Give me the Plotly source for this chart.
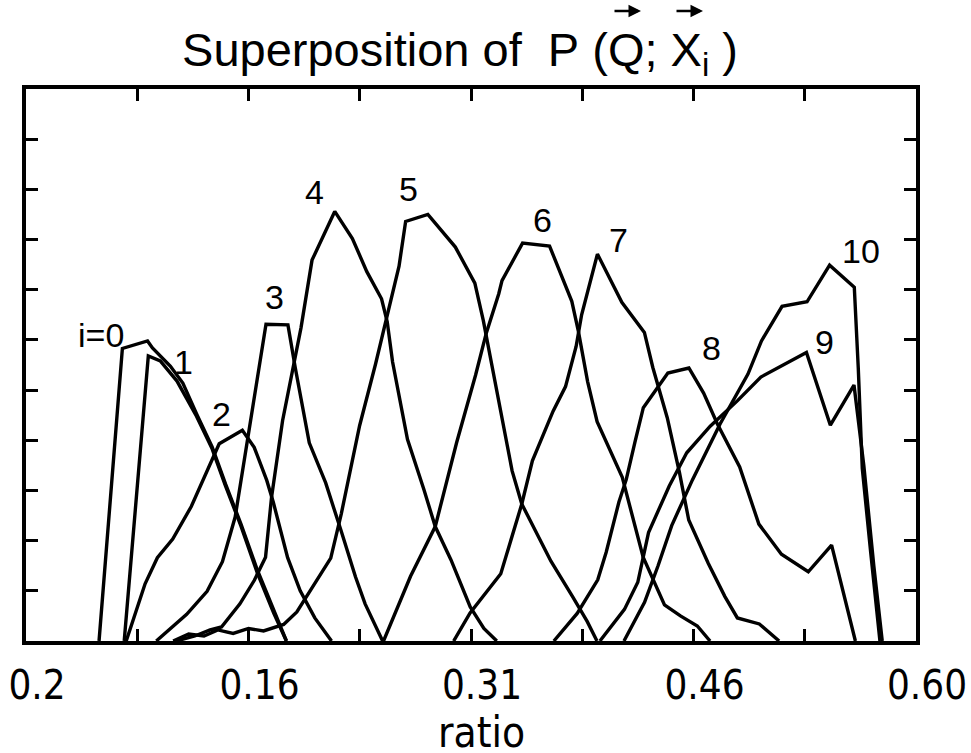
import plotly.graph_objects as go

# ---- data (ratio on x, P on y in tick units) ----
X0 = [0.0676, 0.0828, 0.0992, 0.1024, 0.1140, 0.1222, 0.1311, 0.1413, 0.1500, 0.1601, 0.1708, 0.1815, 0.1897]
Y0 = [0, 5.83, 5.98, 5.84, 5.48, 5.14, 4.53, 3.87, 3.13, 2.33, 1.41, 0.61, 0]

X1 = [0.0840, 0.0997, 0.1075, 0.1184, 0.1311, 0.1413, 0.1500, 0.1601, 0.1708, 0.1815, 0.1897]
Y1 = [0, 5.68, 5.58, 5.18, 4.48, 3.83, 3.09, 2.29, 1.35, 0.55, 0]

X2 = [0.0853, 0.0976, 0.1056, 0.1156, 0.1277, 0.1391, 0.1459, 0.1610, 0.1687, 0.1769, 0.1812, 0.1905, 0.1987, 0.2082, 0.2191]
Y2 = [0, 1.14, 1.66, 2.03, 2.68, 3.48, 3.93, 4.20, 3.86, 3.20, 2.76, 1.66, 1.00, 0.46, 0]

X3 = [0.1049, 0.1247, 0.1380, 0.1480, 0.1563, 0.1635, 0.1699, 0.1764, 0.1907, 0.1955, 0.2046, 0.2153, 0.2253, 0.2347, 0.2410, 0.2524]
Y3 = [0, 0.53, 0.99, 1.58, 2.47, 3.86, 5.16, 6.31, 6.30, 5.44, 3.95, 3.15, 2.20, 1.28, 0.74, 0]

X4 = [0.1179, 0.1300, 0.1400, 0.1474, 0.1594, 0.1688, 0.1761, 0.1800, 0.1872, 0.1942, 0.1992, 0.2064, 0.2212,
      0.2327, 0.2421, 0.2517, 0.2554, 0.2589, 0.2686, 0.2793, 0.2867, 0.2969, 0.3095, 0.3184, 0.3268]
Y4 = [0, 0.10, 0.22, 0.28, 0.74, 1.21, 1.67, 2.86, 4.39, 5.45, 6.24, 7.59, 8.56,
      8.02, 7.36, 6.82, 6.36, 5.56, 4.02, 3.02, 2.28, 1.62, 0.68, 0.25, 0]

X5 = [0.1159, 0.1260, 0.1360, 0.1450, 0.1550, 0.1650, 0.1748, 0.1879, 0.1965, 0.2032, 0.2186, 0.2255, 0.2374,
      0.2478, 0.2548, 0.2631, 0.2674, 0.2819, 0.2998, 0.3125, 0.3180, 0.3229, 0.3289, 0.3368, 0.3431, 0.3621,
      0.3761, 0.3857, 0.3921]
Y5 = [0, 0.14, 0.10, 0.22, 0.15, 0.25, 0.20, 0.33, 0.58, 0.90, 1.65, 2.54, 4.29,
      5.52, 6.42, 7.47, 8.36, 8.50, 7.85, 7.13, 6.39, 5.59, 4.59, 3.39, 2.73, 1.59,
      0.89, 0.39, 0]

X6 = [0.2530, 0.2618, 0.2706, 0.2867, 0.3006, 0.3130, 0.3199, 0.3281, 0.3302, 0.3436, 0.3612, 0.3757, 0.3800,
      0.3860, 0.3922, 0.4086, 0.4222, 0.4361, 0.4465, 0.4575, 0.4658]
Y6 = [0, 0.64, 1.29, 2.28, 3.95, 5.30, 6.13, 6.92, 7.18, 7.93, 7.87, 6.77, 6.17,
      5.17, 4.37, 3.26, 1.67, 0.72, 0.50, 0.30, 0]

X7 = [0.2987, 0.3094, 0.3294, 0.3431, 0.3500, 0.3635, 0.3716, 0.3785, 0.3821, 0.3924, 0.4083, 0.4230, 0.4285,
      0.4379, 0.4459, 0.4519, 0.4646, 0.4754, 0.4836, 0.4979, 0.5108]
Y7 = [0, 0.56, 1.34, 2.73, 3.59, 4.58, 5.07, 5.87, 6.50, 7.71, 6.75, 6.15, 5.45,
      4.45, 3.35, 2.41, 1.55, 0.89, 0.46, 0.34, 0]

X8 = [0.3640, 0.3792, 0.3926, 0.3981, 0.4064, 0.4112, 0.4168, 0.4223, 0.4383, 0.4520, 0.4616, 0.4705, 0.4851,
      0.4976, 0.5123, 0.5298, 0.5450, 0.5605]
Y8 = [0, 0.55, 1.22, 1.77, 2.77, 3.22, 3.96, 4.65, 5.34, 5.44, 4.94, 4.33, 3.47,
      2.33, 1.73, 1.38, 1.91, 0]

X9 = [0.3940, 0.4100, 0.4187, 0.4257, 0.4392, 0.4506, 0.4659, 0.4837, 0.4989, 0.5286, 0.5442, 0.5596, 0.5660,
      0.5725, 0.5780]
Y9 = [0, 0.63, 1.17, 2.16, 3.09, 3.75, 4.28, 4.79, 5.26, 5.75, 4.30, 5.10, 3.50,
      1.50, 0]

X10 = [0.4097, 0.4231, 0.4319, 0.4408, 0.4543, 0.4724, 0.4905, 0.4993, 0.5127, 0.5290, 0.5437, 0.5598, 0.5624,
       0.5650, 0.5705, 0.5765]
Y10 = [0, 0.77, 1.50, 2.30, 3.21, 4.33, 5.32, 5.98, 6.67, 6.76, 7.49, 7.05, 5.43,
       3.44, 1.76, 0]

CURVES = [(X0, Y0), (X1, Y1), (X2, Y2), (X3, Y3), (X4, Y4), (X5, Y5),
          (X6, Y6), (X7, Y7), (X8, Y8), (X9, Y9), (X10, Y10)]

CURVE_LABELS = ["i=0", "1", "2", "3", "4", "5", "6", "7", "8", "9", "10"]
LABEL_X = [0.0686, 0.1226, 0.1474, 0.1819, 0.2083, 0.2690, 0.3568, 0.4063, 0.4666, 0.5404, 0.5641]
LABEL_Y = [6.10, 5.56, 4.53, 6.86, 8.95, 9.00, 8.39, 7.99, 5.83, 5.96, 7.78]

X_TICK_VALS = [0.02, 0.0925, 0.165, 0.2375, 0.31, 0.3825, 0.455, 0.5275, 0.60]
X_TICK_TEXT = ["0.2", "", "0.16", "", "0.31", "", "0.46", "", "0.60"]
Y_TICK_VALS = [1, 2, 3, 4, 5, 6, 7, 8, 9, 10]

TITLE = "Superposition of\u00a0\u00a0P\u00a0(Q;\u00a0X<sub>i</sub>\u00a0)"
X_TITLE = "ratio"

NARROW = "Liberation Sans Narrow, DejaVu Sans Condensed, Liberation Sans, sans-serif"
SANS = "Liberation Sans, Arial, sans-serif"

fig = go.Figure()
for xs, ys in CURVES:
    fig.add_trace(go.Scatter(x=xs, y=ys, mode="lines",
                             line=dict(color="black", width=3.4),
                             showlegend=False, hoverinfo="skip"))

for t, lx, ly in zip(CURVE_LABELS, LABEL_X, LABEL_Y):
    fig.add_annotation(x=lx, y=ly, text=t, showarrow=False,
                       font=dict(family=SANS, size=34, color="black"),
                       xanchor="center", yanchor="middle")

# x-axis title
fig.add_annotation(xref="paper", yref="paper", x=(482 - 26) / 890, y=-(759 - 641) / 552,
                   text=X_TITLE, showarrow=False,
                   font=dict(family=NARROW, size=42, color="black"),
                   xanchor="center", yanchor="bottom")

# vector arrows over Q and X in the title
for head_px in (641, 703):
    fig.add_annotation(xref="paper", yref="paper", x=(head_px - 26) / 890, y=(641 - 11) / 552,
                       text="", showarrow=True, ax=-28, ay=0, axref="pixel", ayref="pixel",
                       arrowhead=2, arrowsize=1, arrowwidth=2.5, arrowcolor="black")

fig.update_layout(
    width=971, height=753,
    margin=dict(l=26, r=55, t=89, b=112),
    paper_bgcolor="white", plot_bgcolor="white",
    title=dict(text=TITLE,
               x=460 / 971, xanchor="center", xref="container",
               y=1 - 50 / 753, yanchor="middle", yref="container",
               font=dict(family=SANS, size=47, color="black")),
    xaxis=dict(range=[0.01999, 0.60001], tickvals=X_TICK_VALS, ticktext=X_TICK_TEXT,
               ticks="inside", ticklen=12, tickwidth=3, tickcolor="black",
               showline=True, linewidth=3.5, linecolor="black", mirror="ticks",
               showgrid=False, zeroline=False, ticklabelstandoff=6,
               ticklabelshift=11,
               ticklabeloverflow="allow", automargin=False,
               tickfont=dict(family=NARROW, size=40, color="black")),
    yaxis=dict(range=[0, 11], tickvals=Y_TICK_VALS, showticklabels=False,
               ticks="inside", ticklen=12, tickwidth=3, tickcolor="black",
               showline=True, linewidth=3.5, linecolor="black", mirror="ticks",
               showgrid=False, zeroline=False, automargin=False),
)

fig.write_html("out.html")
